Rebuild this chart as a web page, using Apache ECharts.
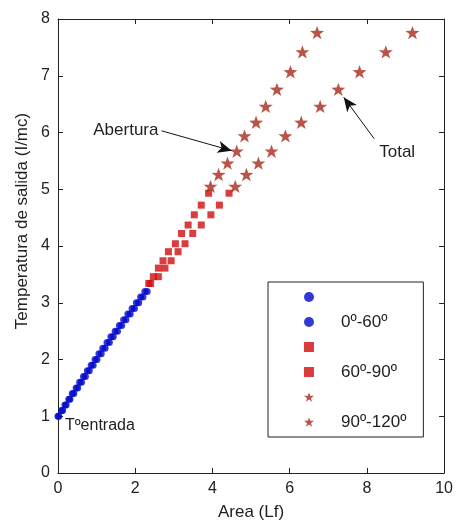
<!DOCTYPE html>
<html>
<head>
<meta charset="utf-8">
<script src="https://cdn.jsdelivr.net/npm/echarts@6/dist/echarts.min.js"></script>
<style>
  html, body { margin: 0; padding: 0; background: #fff; }
  #main { width: 456px; height: 526px; }
</style>
</head>
<body>
<div id="main"></div>
<script>
var chartDom = document.getElementById('main');
var myChart = echarts.init(chartDom);

// puntos azules (0-60)
var blueY = [1.00, 1.10, 1.20, 1.30, 1.40, 1.50, 1.60, 1.70, 1.80, 1.90, 2.00, 2.10, 2.20, 2.30, 2.40, 2.50, 2.60, 2.70, 2.80, 2.90, 3.00, 3.10, 3.20];
var blueXa = [0.00, 0.09, 0.18, 0.28, 0.37, 0.47, 0.56, 0.66, 0.76, 0.86, 0.96, 1.06, 1.16, 1.27, 1.37, 1.48, 1.59, 1.70, 1.81, 1.92, 2.03, 2.14, 2.25];
var blueXb = [0.02, 0.12, 0.21, 0.31, 0.41, 0.51, 0.61, 0.71, 0.81, 0.91, 1.01, 1.12, 1.22, 1.33, 1.43, 1.54, 1.65, 1.76, 1.87, 1.98, 2.09, 2.20, 2.31];

// cuadrados rojos (60-90)
var sqY = [3.34, 3.46, 3.61, 3.74, 3.90, 4.04, 4.22, 4.37, 4.55, 4.72, 4.93];
var sqXa = [2.35, 2.47, 2.60, 2.72, 2.86, 3.04, 3.20, 3.37, 3.53, 3.71, 3.90];
var sqXb = [2.40, 2.60, 2.77, 2.93, 3.11, 3.29, 3.49, 3.71, 3.96, 4.18, 4.43];

// estrellas (90-120)
var starY = [5.05, 5.26, 5.46, 5.67, 5.94, 6.18, 6.46, 6.76, 7.07, 7.42, 7.76];
var starXa = [3.95, 4.16, 4.39, 4.63, 4.83, 5.13, 5.38, 5.67, 6.02, 6.33, 6.71];
var starXb = [4.59, 4.88, 5.19, 5.53, 5.89, 6.30, 6.79, 7.26, 7.81, 8.49, 9.18];

var legendNames = [' ', '0º-60º', '  ', '60º-90º', '   ', '90º-120º'];

// flechas de anotacion (inicio, punta)
var arrowAbertura = [[2.68, 6.03], [4.50, 5.68]];
var arrowTotal = [[8.19, 5.89], [7.40, 6.62]];

var starPath = 'path://M50,0 L62,34 L98,35 L69,57 L80,92 L50,71 L20,92 L31,57 L2,35 L38,34 Z';
var fontFam = "'Liberation Sans', Arial, sans-serif";
var axisColor = '#222';

function zip(xs, ys) { //une x e y
    var r = [];
    for (var i = 0; i < xs.length; i++) {
        r.push([xs[i], ys[i]]);
    }
    return r;
}

function arrowLine(a) {
    return [{ coord: a[0] }, { coord: a[1] }];
}

function boxAxis(pos, max, interval, labels) { //ejes de la caja
    return {
        type: 'value', min: 0, max: max, interval: interval, position: pos,
        axisLine: { show: true, onZero: false, lineStyle: { color: axisColor } },
        axisTick: { show: true, inside: true, length: 5, lineStyle: { color: axisColor } },
        axisLabel: { show: labels, fontSize: 16, color: axisColor, fontFamily: fontFam, margin: 8 },
        splitLine: { show: false }
    };
}

var xMain = boxAxis('bottom', 10, 2, true);
xMain.name = 'Area (Lf)';
xMain.nameLocation = 'middle';
xMain.nameGap = 31;
xMain.nameTextStyle = { fontSize: 17, color: axisColor, fontFamily: fontFam };

var option = {
    animation: false,
    grid: { left: 58, right: 6, top: 19, bottom: 49 },
    xAxis: [xMain, boxAxis('top', 10, 2, false)],
    yAxis: [boxAxis('left', 8, 1, true), boxAxis('right', 8, 1, false)],
    legend: {
        orient: 'vertical',
        left: 268, top: 282,
        data: legendNames,
        itemWidth: 10, itemHeight: 10, itemGap: 5,
        padding: [5, 17, 5, 36],
        borderColor: axisColor, borderWidth: 1,
        backgroundColor: '#fff',
        selectedMode: false,
        textStyle: { fontSize: 17, color: axisColor, fontFamily: fontFam, lineHeight: 20, padding: [0, 0, 0, 22] }
    },
    series: [{
        name: legendNames[0], type: 'scatter', symbol: 'circle', symbolSize: 7,
        itemStyle: { color: '#0008cc' }, data: zip(blueXa, blueY)
    }, {
        name: legendNames[1], type: 'scatter', symbol: 'circle', symbolSize: 7,
        itemStyle: { color: '#0008cc' }, data: zip(blueXb, blueY)
    }, {
        name: legendNames[2], type: 'scatter', symbol: 'rect', symbolSize: 7,
        itemStyle: { color: '#d00c0c' }, data: zip(sqXa, sqY)
    }, {
        name: legendNames[3], type: 'scatter', symbol: 'rect', symbolSize: 7,
        itemStyle: { color: '#d00c0c' }, data: zip(sqXb, sqY)
    }, {
        name: legendNames[4], type: 'scatter', symbol: starPath, symbolSize: 14, symbolKeepAspect: true,
        itemStyle: { color: '#a82a1a' }, data: zip(starXa, starY)
    }, {
        name: legendNames[5], type: 'scatter', symbol: starPath, symbolSize: 14, symbolKeepAspect: true,
        itemStyle: { color: '#a82a1a' }, data: zip(starXb, starY),
        markLine: {
            silent: true,
            symbol: ['none', 'arrow'],
            symbolSize: [9, 14],
            label: { show: false },
            lineStyle: { color: '#111', width: 1, type: 'solid' },
            emphasis: { disabled: true },
            data: [arrowLine(arrowAbertura), arrowLine(arrowTotal)]
        }
    }]
};
myChart.setOption(option);

// textos de anotacion
var pA = myChart.convertToPixel({ gridIndex: 0 }, arrowAbertura[0]);
var pT = myChart.convertToPixel({ gridIndex: 0 }, arrowTotal[0]);
var p1 = myChart.convertToPixel({ gridIndex: 0 }, [0, 1]);
myChart.setOption({
    graphic: [{
        type: 'text', x: pA[0] - 3, y: pA[1],
        style: { text: 'Abertura', fontSize: 17, fill: axisColor, fontFamily: fontFam, textAlign: 'right', textVerticalAlign: 'middle' }
    }, {
        type: 'text', x: pT[0] + 5, y: pT[1] + 14,
        style: { text: 'Total', fontSize: 17, fill: axisColor, fontFamily: fontFam, textAlign: 'left', textVerticalAlign: 'middle' }
    }, {
        type: 'text', x: p1[0] + 7, y: p1[1] + 9,
        style: { text: 'Tºentrada', fontSize: 16, fill: axisColor, fontFamily: fontFam, textAlign: 'left', textVerticalAlign: 'middle' }
    }, {
        type: 'text', x: 22, y: 221, rotation: Math.PI / 2,
        style: { text: 'Temperatura de salida (I/mc)', fontSize: 17, fill: axisColor, fontFamily: fontFam, textAlign: 'center', textVerticalAlign: 'middle' }
    }]
});
</script>
</body>
</html>
